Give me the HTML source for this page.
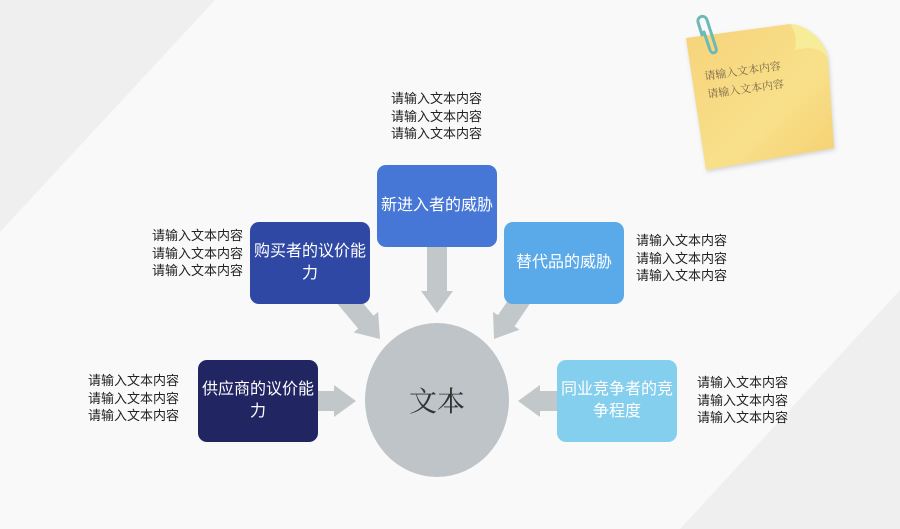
<!DOCTYPE html>
<html><head><meta charset="utf-8"><style>
body{margin:0;width:900px;height:529px;overflow:hidden;background:#f9f9f9;position:relative;font-family:"Liberation Sans","Noto Sans CJK SC",sans-serif}
.box{position:absolute;width:120px;height:82px;border-radius:9px;color:#fff;font-size:16px;line-height:22px;display:flex;align-items:center;justify-content:center;text-align:center;padding:0 4px;box-sizing:border-box}
.t{position:absolute;font-size:13px;line-height:17.5px;color:#222;white-space:nowrap}
svg{position:absolute;left:0;top:0}
</style></head><body>
<svg width="900" height="529">
<defs>
<linearGradient id="g" x1="0" y1="0" x2="1" y2="1"><stop offset="0" stop-color="#f6d37a"/><stop offset="0.6" stop-color="#f8e08a"/><stop offset="1" stop-color="#f5cf70"/></linearGradient>
<polygon id="ar" points="0,-10 -22,-10 -22,-16 0,0 -22,16 -22,10 -80,10 -80,-10" fill="#c2c7ca"/>
</defs>
<polygon points="0,0 215,0 0,232" fill="#efefef"/>
<polygon points="900,290 900,529 680,529" fill="#efefef"/>
<path d="M686,38 L790,24 C812,26 826,45 828,58 L834,148 L706,170 Z" fill="url(#g)" style="filter:drop-shadow(1px 2px 2px rgba(0,0,0,0.15))"/>
<path d="M790,24 C812,26 826,45 828,58 C820,48 812,46 795,50 C797,40 795,30 790,24 Z" fill="#f7ec98"/>
<path d="M702,35 L698,22 C697,16 705,14 707,20 L716,48 C718,53 712,55 710,50 L704,32" fill="none" stroke="#6db9b6" stroke-width="3" stroke-linecap="round"/>
<text transform="translate(705,80) rotate(-8)" font-size="11" fill="#7a6a4a" font-family="Liberation Serif, Noto Serif CJK SC, serif">请输入文本内容</text>
<text transform="translate(708,98) rotate(-8)" font-size="11" fill="#7a6a4a" font-family="Liberation Serif, Noto Serif CJK SC, serif">请输入文本内容</text>
<ellipse cx="437" cy="400" rx="72" ry="77" fill="#bec4c7"/>
<text x="437" y="411" text-anchor="middle" font-size="28" fill="#333" font-family="Liberation Serif, Noto Serif CJK SC, serif">文本</text>
<use href="#ar" transform="translate(437,313) rotate(90)"/>
<use href="#ar" transform="translate(356,401)"/>
<use href="#ar" transform="translate(518,401) rotate(180)"/>
<use href="#ar" transform="translate(380,339) rotate(50)"/>
<use href="#ar" transform="translate(494,339) rotate(124)"/>
</svg>
<div class="box" style="left:377px;top:165px;background:#4677d6">新进入者的威胁</div>
<div class="box" style="left:250px;top:222px;background:#2f48a3">购买者的议价能力</div>
<div class="box" style="left:504px;top:222px;background:#5aaaea">替代品的威胁</div>
<div class="box" style="left:198px;top:360px;background:#212561">供应商的议价能力</div>
<div class="box" style="left:557px;top:360px;background:#85cfee">同业竞争者的竞争程度</div>
<div class="t" style="left:391px;top:90px">请输入文本内容<br>请输入文本内容<br>请输入文本内容</div>
<div class="t" style="left:152px;top:227px">请输入文本内容<br>请输入文本内容<br>请输入文本内容</div>
<div class="t" style="left:636px;top:232px">请输入文本内容<br>请输入文本内容<br>请输入文本内容</div>
<div class="t" style="left:88px;top:372px">请输入文本内容<br>请输入文本内容<br>请输入文本内容</div>
<div class="t" style="left:697px;top:374px">请输入文本内容<br>请输入文本内容<br>请输入文本内容</div>
</body></html>
